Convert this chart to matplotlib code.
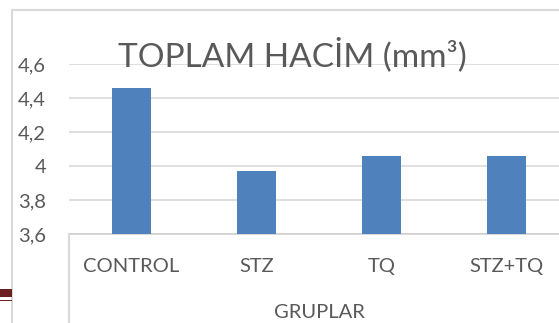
import matplotlib
matplotlib.use("Agg")
import matplotlib.pyplot as plt
from matplotlib.patches import Rectangle
from matplotlib.lines import Line2D

# Data
categories = ["CONTROL", "STZ", "TQ", "STZ+TQ"]
volumes = [4.46, 3.97, 4.06, 4.06]
y_ticks = [3.6, 3.8, 4.0, 4.2, 4.4, 4.6]
y_tick_labels = ["3,6", "3,8", "4", "4,2", "4,4", "4,6"]
title = "TOPLAM HACİM (mm³)"
x_title = "GRUPLAR"

W, H = 559, 323
TXT = "#595959"
GRID = "#d9d9d9"
BAR = "#4f81bd"

plt.rcParams["font.family"] = ["Lato", "DejaVu Sans"]

fig = plt.figure(figsize=(W / 100, H / 100), dpi=100)
fig.patch.set_facecolor("white")

def fx(px):
    return px / W

def fy(py):
    return 1 - py / H

ax_left, ax_right, ax_top, ax_bottom = 69, 569, 64, 234
ax = fig.add_axes([fx(ax_left), fy(ax_bottom), fx(ax_right - ax_left), (ax_bottom - ax_top) / H])
ax.set_facecolor("none")

x = list(range(len(categories)))
ax.bar(x, volumes, width=0.31, color=BAR, zorder=3)
ax.set_xlim(-0.5, len(categories) - 0.5)
ax.set_ylim(y_ticks[0], y_ticks[-1])
ax.set_yticks(y_ticks)
ax.set_yticklabels(y_tick_labels)
ax.set_xticks(x)
ax.set_xticklabels(categories)
ax.grid(axis="y", color=GRID, lw=1.2, zorder=0)
ax.tick_params(axis="both", length=0, labelsize=14.5, colors=TXT)
ax.tick_params(axis="y", pad=16.5)
ax.tick_params(axis="x", pad=17)
for s in ["top", "right", "left"]:
    ax.spines[s].set_visible(False)
ax.spines["bottom"].set_color("#d0d0d0")
ax.spines["bottom"].set_linewidth(1.2)

ax.text(0.5, -0.41, x_title, transform=ax.transAxes, ha="center", va="top",
        fontsize=14.5, color=TXT)

# Chart frame and category box line
fig.add_artist(Rectangle((fx(12), -0.2), 2, fy(10) + 0.2, transform=fig.transFigure,
                         fill=False, edgecolor=GRID, lw=1.5))
fig.add_artist(Line2D([fx(69), fx(69)], [fy(234), 0], transform=fig.transFigure,
                      color=GRID, lw=1.5))

# Small dark mark at the left edge
fig.add_artist(Rectangle((0, fy(297)), fx(12), 8 / H, transform=fig.transFigure,
                         color="#6b1f1f", lw=0))
fig.add_artist(Rectangle((0, fy(301)), fx(12), 1.5 / H, transform=fig.transFigure,
                         color="#6b1f1f", lw=0))

fig.text(fx(292), fy(55), title, ha="center", va="center", fontsize=24, color=TXT)

fig.savefig("out.png", dpi=100)
